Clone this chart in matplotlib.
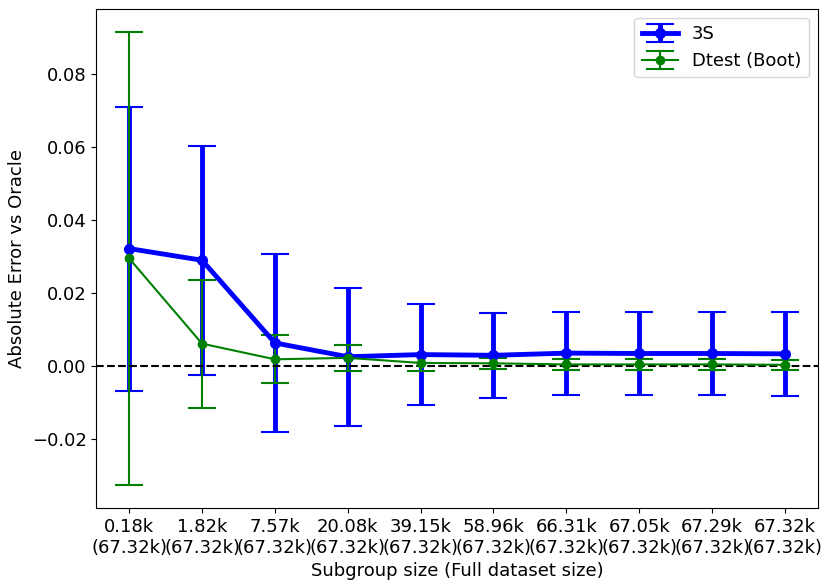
import numpy as np
import matplotlib.pyplot as plt

# subgroup size / full dataset size labels
sub_sizes = ["0.18k", "1.82k", "7.57k", "20.08k", "39.15k", "58.96k", "66.31k", "67.05k", "67.29k", "67.32k"]
full_sizes = ["67.32k"] * 10

# 3S estimates and error bars
err_3s = [0.0322, 0.0290, 0.0063, 0.0025, 0.0031, 0.0029, 0.0035, 0.0034, 0.0034, 0.0033]
ci_3s = [0.0390, 0.0315, 0.0244, 0.0190, 0.0138, 0.0116, 0.0114, 0.0113, 0.0115, 0.0115]

# Dtest (Boot) estimates and error bars
err_dt = [0.0295, 0.0061, 0.0018, 0.0022, 0.0008, 0.0007, 0.0004, 0.0004, 0.0004, 0.0003]
ci_dt = [0.0623, 0.0176, 0.0066, 0.0035, 0.0023, 0.0015, 0.0014, 0.0014, 0.0015, 0.0014]

x = np.arange(len(sub_sizes))
labels = [s + "\n(" + f + ")" for s, f in zip(sub_sizes, full_sizes)]

plt.rcParams['font.size'] = 13
fig, ax = plt.subplots(figsize=(8.31, 5.88), dpi=100)

ax.errorbar(x, err_3s, yerr=ci_3s, color='blue', marker='o', linewidth=3.5,
            capsize=10, capthick=1.5, markersize=7, label='3S')
ax.errorbar(x, err_dt, yerr=ci_dt, color='green', marker='o', linewidth=1.5,
            capsize=10, capthick=1.5, markersize=6, label='Dtest (Boot)')
ax.axhline(0, color='black', linestyle='--', linewidth=1.5)

ax.set_xticks(x)
ax.set_xticklabels(labels)
ax.set_xlabel('Subgroup size (Full dataset size)')
ax.set_ylabel('Absolute Error vs Oracle')
ax.legend(loc='upper right')

fig.subplots_adjust(left=0.116, right=0.984, top=0.985, bottom=0.136)
fig.savefig('out.png')
